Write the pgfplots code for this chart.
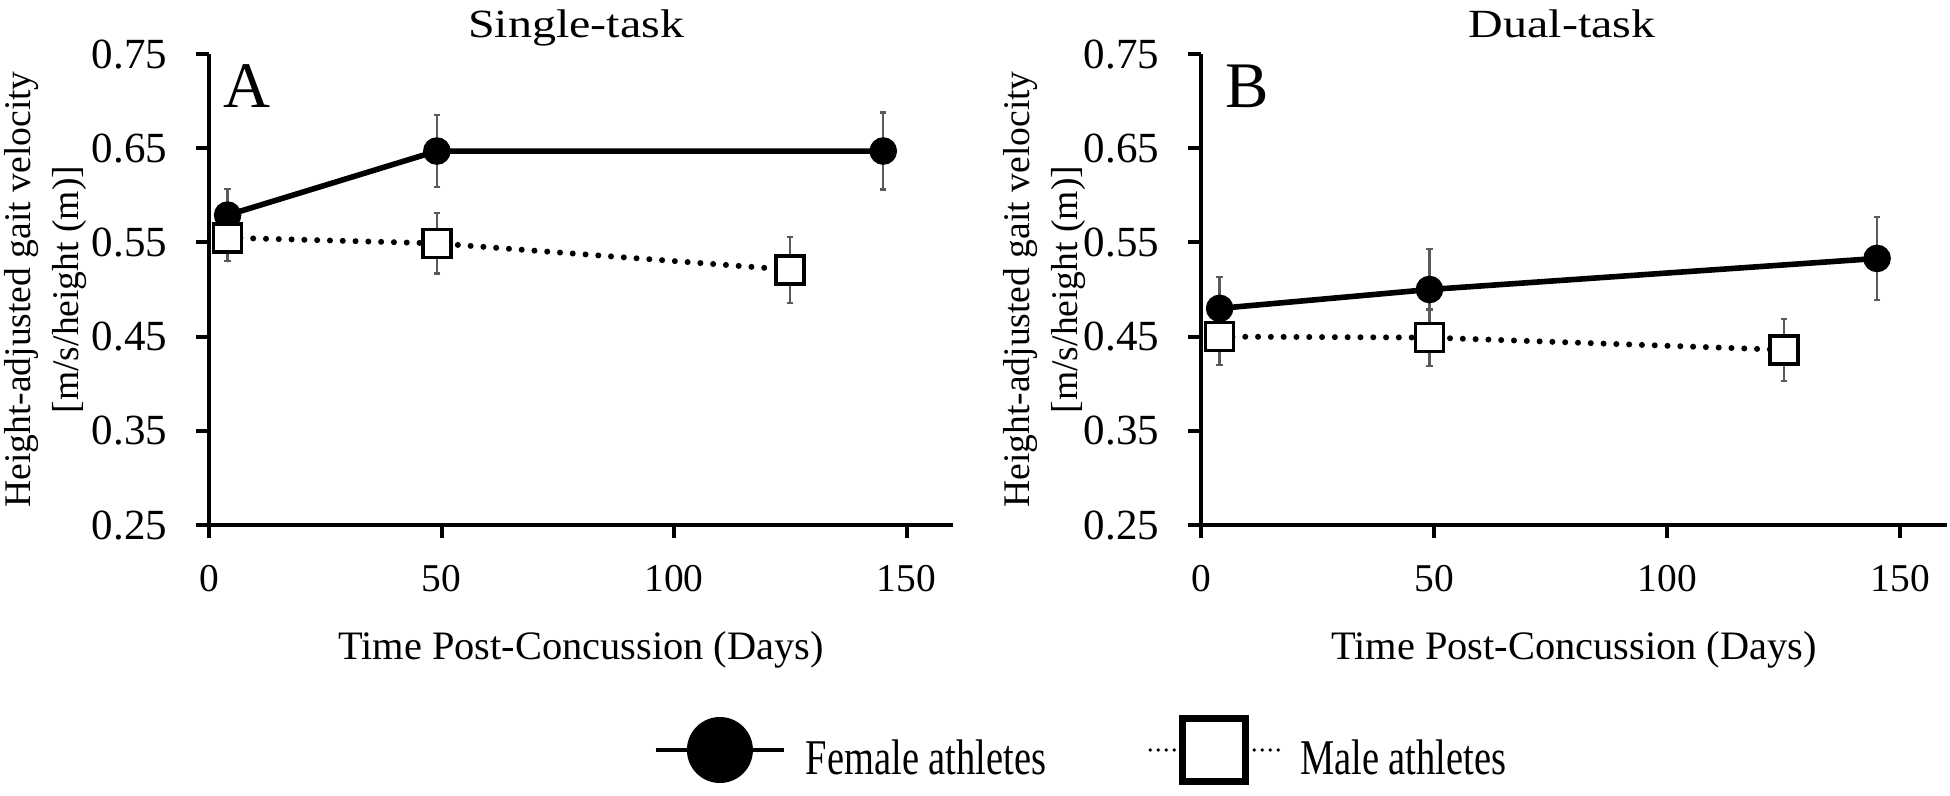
\documentclass[border=0pt]{standalone}
\usepackage{fontspec}
\setmainfont{Liberation Serif}
\newfontfamily\titlefont[FakeStretch=1.2]{Liberation Serif}
\newfontfamily\legfont[FakeStretch=0.77]{Liberation Serif}
\usepackage{pgfplots}
\pgfplotsset{compat=1.18}
\definecolor{errgray}{RGB}{90,90,90}
\pgfplotsset{
  myaxis/.style={
    scale only axis, height=117.75pt, anchor=south west,
    xmin=0, xmax=160, ymin=0.25, ymax=0.75,
    axis x line=bottom, axis y line=left,
    axis line style={-, line width=1pt},
    tick style={line width=1pt, black},
    tick align=outside, major tick length=3.25pt,
    xtick={0,50,100,150}, ytick={0.25,0.35,0.45,0.55,0.65,0.75},
    /pgf/number format/assume math mode=true,
    y tick label style={/pgf/number format/fixed, /pgf/number format/fixed zerofill, /pgf/number format/precision=2,
      font=\fontsize{10.75}{12}\selectfont, anchor=east, inner sep=0pt, xshift=-7pt},
    x tick label style={font=\fontsize{9.85}{11}\selectfont, anchor=north, inner sep=0pt, yshift=-6.5pt},
    xlabel={Time Post-Concussion (Days)},
    xlabel style={at={(axis description cs:0.5,0)}, anchor=base, yshift=-33.5pt, inner sep=0pt,
      font=\fontsize{10.1}{12}\selectfont},
    ylabel={Height-adjusted gait velocity\\{[m/s/height (m)]}},
    ylabel style={anchor=north, inner sep=0pt, align=center,
      font=\fontsize{9.4}{12}\selectfont},
    title style={at={(axis description cs:0.5,1)}, anchor=base, yshift=-1.8pt, inner sep=0pt,
      font=\titlefont\fontsize{10}{12}\selectfont},
    clip=false,
  },
  errs/.style={
    error bars/y dir=both, error bars/y explicit,
    error bars/error bar style={line width=0.6pt, color=errgray, solid},
    error bars/error mark options={line width=0.6pt, color=errgray, mark size=0.8pt, rotate=90}},
  fem/.style={black, line width=1.4pt, mark=*, mark size=3.2pt, mark options={solid, line width=0.5pt}, errs},
  mal/.style={black, line width=1.5pt, line cap=round, dash pattern=on 0pt off 3.2pt,
    mark=square*, mark size=3.5pt, mark options={solid, fill=white, line width=0.9pt}, errs},
}
\begin{document}
\begin{tikzpicture}
\useasboundingbox (0,0) rectangle (487.5pt,-198.75pt);
% Panel A
\begin{axis}[myaxis, at={(52.25pt,-131.25pt)}, width=186pt,
  title={Single-task}, title style={xshift=-1.25pt},
  ylabel style={at={(axis description cs:-0.2765,0.5)}},
  legend image code/.code={\draw[mark repeat=2,mark phase=2,#1] plot coordinates {(0pt,2.5pt) (16pt,2.5pt) (32pt,2.5pt)};},
  legend style={at={(axis description cs:0.598,-0.4777)}, anchor=west, draw=none, fill=none,
    inner sep=0pt, outer sep=0pt, legend columns=2,
    font=\legfont\fontsize{12.5}{14}\selectfont,
    nodes={inner sep=0pt},
    /tikz/every odd column/.append style={column sep=5pt},
    /tikz/every even column/.append style={column sep=25.5pt}},
  legend cell align=left,
]
\addlegendimage{black, line width=1pt, mark=*, mark size=8pt, mark options={solid, line width=0.5pt}}
\addlegendentry{Female athletes}
\addlegendimage{black, line width=0.9pt, line cap=round, dash pattern=on 0pt off 2pt, mark=square*, mark size=7.9pt, mark options={solid, fill=white, line width=1.7pt}}
\addlegendentry{Male athletes}
\addplot[forget plot, fem] table[x=x, y=y, y error=e] {
x y e
4 0.579 0.028
49 0.647 0.038
145 0.647 0.041
};
\addplot[forget plot, mal] table[x=x, y=y, y error=e] {
x y e
4 0.555 0.025
49 0.549 0.032
125 0.521 0.035
};
\node[anchor=base west, inner sep=0pt, font=\fontsize{16.25}{18}\selectfont] at (axis description cs:0.019,0.8875) {A};
\end{axis}
% Panel B
\begin{axis}[myaxis, at={(300.25pt,-131.25pt)}, width=186.5pt,
  title={Dual-task}, title style={xshift=-3pt},
  ylabel style={at={(axis description cs:-0.2654,0.5)}},
]
\addplot[fem] table[x=x, y=y, y error=e] {
x y e
4 0.480 0.033
49 0.500 0.043
145 0.533 0.044
};
\addplot[mal] table[x=x, y=y, y error=e] {
x y e
4 0.450 0.030
49 0.449 0.030
125 0.436 0.033
};
\node[anchor=base west, inner sep=0pt, font=\fontsize{16.25}{18}\selectfont] at (axis description cs:0.032,0.886) {B};
\end{axis}
\end{tikzpicture}
\end{document}
